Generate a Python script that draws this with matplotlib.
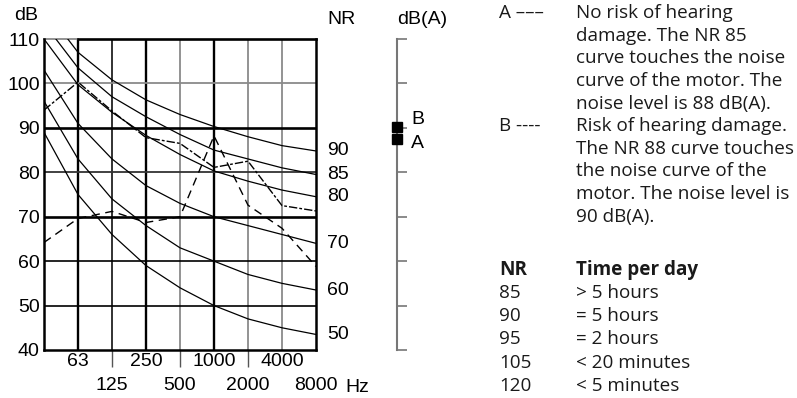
import numpy as np
import matplotlib.pyplot as plt

########################################
# data
########################################
freqs = ["31.5", "63", "125", "250", "500", "1000", "2000", "4000", "8000"]

nr_levels = [50, 60, 70, 80, 85, 90]
nr50 = [89, 75, 66, 59, 54, 50, 47, 45, 43.5]
nr60 = [96, 83, 74, 68, 63, 60, 57, 55, 53.5]
nr70 = [103, 91, 83, 77, 73, 70, 68, 66, 64]
nr80 = [110, 99.7, 93.5, 88.3, 84, 80.3, 78, 76, 74.5]
nr85 = [113.5, 103.5, 97, 92.5, 88.5, 85, 83, 81, 79.5]
nr90 = [117, 107, 100.8, 96.3, 93, 90.3, 88, 86, 84.8]

motor_a = [94, 100.3, 93.8, 87.8, 86.5, 81.1, 82.5, 72.5, 71.3]
motor_b = [64.2, 69.6, 71.2, 68.7, 70, 88.2, 72.6, 67.4, 58.8]

db_ticks = [40, 50, 60, 70, 80, 90, 100, 110]
dba_a = 87.4
dba_b = 90.2

desc_a = ["No risk of hearing", "damage. The NR 85", "curve touches the noise",
          "curve of the motor. The", "noise level is 88 dB(A)."]
desc_b = ["Risk of hearing damage.", "The NR 88 curve touches", "the noise curve of the",
          "motor. The noise level is", "90 dB(A)."]
table_nr = ["85", "90", "95", "105", "120"]
table_time = ["> 5 hours", "= 5 hours", "= 2 hours", "< 20 minutes", "< 5 minutes"]

########################################
# figure
########################################
plt.rcParams['font.family'] = ['Liberation Sans', 'DejaVu Sans']
W, H = 797, 398
fx = lambda px: px / W
fy = lambda py: 1 - py / H
fs = 14

fig = plt.figure(figsize=(W / 100, H / 100), dpi=100)
ax = fig.add_axes([fx(44), fy(350), fx(316) - fx(44), fy(39) - fy(350)])
pos = np.arange(len(freqs))
ax.set_xlim(pos[0], pos[-1])
ax.set_ylim(db_ticks[0], db_ticks[-1])
ax.patch.set_visible(False)

gray = "#8a8a8a"
v_style = {"63": ("k", 1.7), "125": ("#222222", 1.3), "250": ("k", 1.7), "500": (gray, 1.3),
           "1000": ("k", 1.7), "2000": (gray, 1.3), "4000": (gray, 1.3)}
h_style = {50: ("k", 1.2), 60: ("k", 1.2), 70: ("k", 1.9), 80: ("#333333", 1.3),
           90: ("k", 1.9), 100: (gray, 1.3)}
for p, f in zip(pos, freqs):
    if f in v_style:
        c, lw = v_style[f]
        ax.axvline(p, color=c, lw=lw, zorder=1)
for d in db_ticks:
    if d in h_style:
        c, lw = h_style[d]
        ax.axhline(d, color=c, lw=lw, zorder=1)
# top edge: gray before 63 Hz, black after
ax.axhline(db_ticks[-1], xmax=1 / 8, color=gray, lw=1.3, clip_on=False)
ax.axhline(db_ticks[-1], xmin=1 / 8, color="k", lw=1.9, clip_on=False)

ax.spines["top"].set_visible(False)
for s in ("left", "bottom", "right"):
    ax.spines[s].set_linewidth(1.8)

# NR curves
for lev, vals in zip(nr_levels, [nr50, nr60, nr70, nr80, nr85, nr90]):
    ax.plot(pos, vals, color="k", lw=0.9, zorder=3)
    ax.annotate(str(lev), xy=(pos[-1], vals[-1]), xytext=(8, 0), textcoords="offset points",
                va="center", ha="left", fontsize=fs, annotation_clip=False)

# motor noise curves
ax.plot(pos, motor_a, color="k", lw=1.0, dashes=(6, 1.5, 2, 1.5), zorder=4)
ax.plot(pos, motor_b, color="k", lw=1.0, dashes=(6, 4), zorder=4)

# axes ticks
ax.set_yticks(db_ticks)
ax.tick_params(axis="y", length=0, pad=3, labelsize=fs)
ax.set_xticks(pos[1::2])
ax.set_xticklabels(freqs[1::2])
ax.set_xticks(pos[2::2], minor=True)
ax.set_xticklabels(freqs[2::2], minor=True)
ax.tick_params(axis="x", which="major", length=0, pad=2.5, labelsize=fs)
ax.tick_params(axis="x", which="minor", length=12, width=1.0, color="#555555", direction="out",
               pad=7.5, labelsize=fs)
ax.xaxis.get_minor_ticks()[-1].tick1line.set_visible(False)
ax.annotate("Hz", xy=(1, 0), xycoords="axes fraction", xytext=(29, -37),
            textcoords="offset pixels", va="center", ha="left", fontsize=fs)

fig.text(fx(14), fy(16), "dB", va="center", ha="left", fontsize=fs)
fig.text(fx(327), fy(20), "NR", va="center", ha="left", fontsize=fs)
fig.text(fx(397), fy(20), "dB(A)", va="center", ha="left", fontsize=fs)

# dB(A) scale
ax2 = fig.add_axes([fx(397), fy(350), fx(30), fy(39) - fy(350)], sharey=ax)
ax2.set_xlim(0, 1)
ax2.patch.set_visible(False)
for s in ("top", "bottom", "right"):
    ax2.spines[s].set_visible(False)
ax2.spines["left"].set_color("#777777")
ax2.spines["left"].set_linewidth(1.5)
ax2.tick_params(axis="y", direction="in", length=7.5, width=1.2, color="#777777",
                labelleft=False)
ax2.set_xticks([])
ax2.plot([0], [dba_b], marker="s", ms=7.6, color="k", clip_on=False, zorder=5)
ax2.plot([0], [dba_a], marker="s", ms=7.6, color="k", clip_on=False, zorder=5)
ax2.annotate("B", xy=(0, dba_b), xytext=(10, 5.5), textcoords="offset points",
             va="center", ha="left", fontsize=fs, annotation_clip=False)
ax2.annotate("A", xy=(0, dba_a), xytext=(10, -3), textcoords="offset points",
             va="center", ha="left", fontsize=fs, annotation_clip=False)

# explanation text
tfont = dict(family=["Open Sans", "DejaVu Sans"], fontsize=13.6, color="#1a1a1a",
             va="center", ha="left")
line_h = 22.7
fig.text(fx(499), fy(13), "A –––", **tfont)
for i, s in enumerate(desc_a):
    fig.text(fx(576), fy(13 + i * line_h), s, **tfont)
fig.text(fx(499), fy(126), "B ----", **tfont)
for i, s in enumerate(desc_b):
    fig.text(fx(576), fy(126 + i * line_h), s, **tfont)

fig.text(fx(499), fy(270), "NR", fontweight="bold", **tfont)
fig.text(fx(576), fy(270), "Time per day", fontweight="bold", **tfont)
for i, (n, t) in enumerate(zip(table_nr, table_time)):
    fig.text(fx(499), fy(293 + i * 23.2), n, **tfont)
    fig.text(fx(576), fy(293 + i * 23.2), t, **tfont)

fig.savefig("out.png", dpi=100)
